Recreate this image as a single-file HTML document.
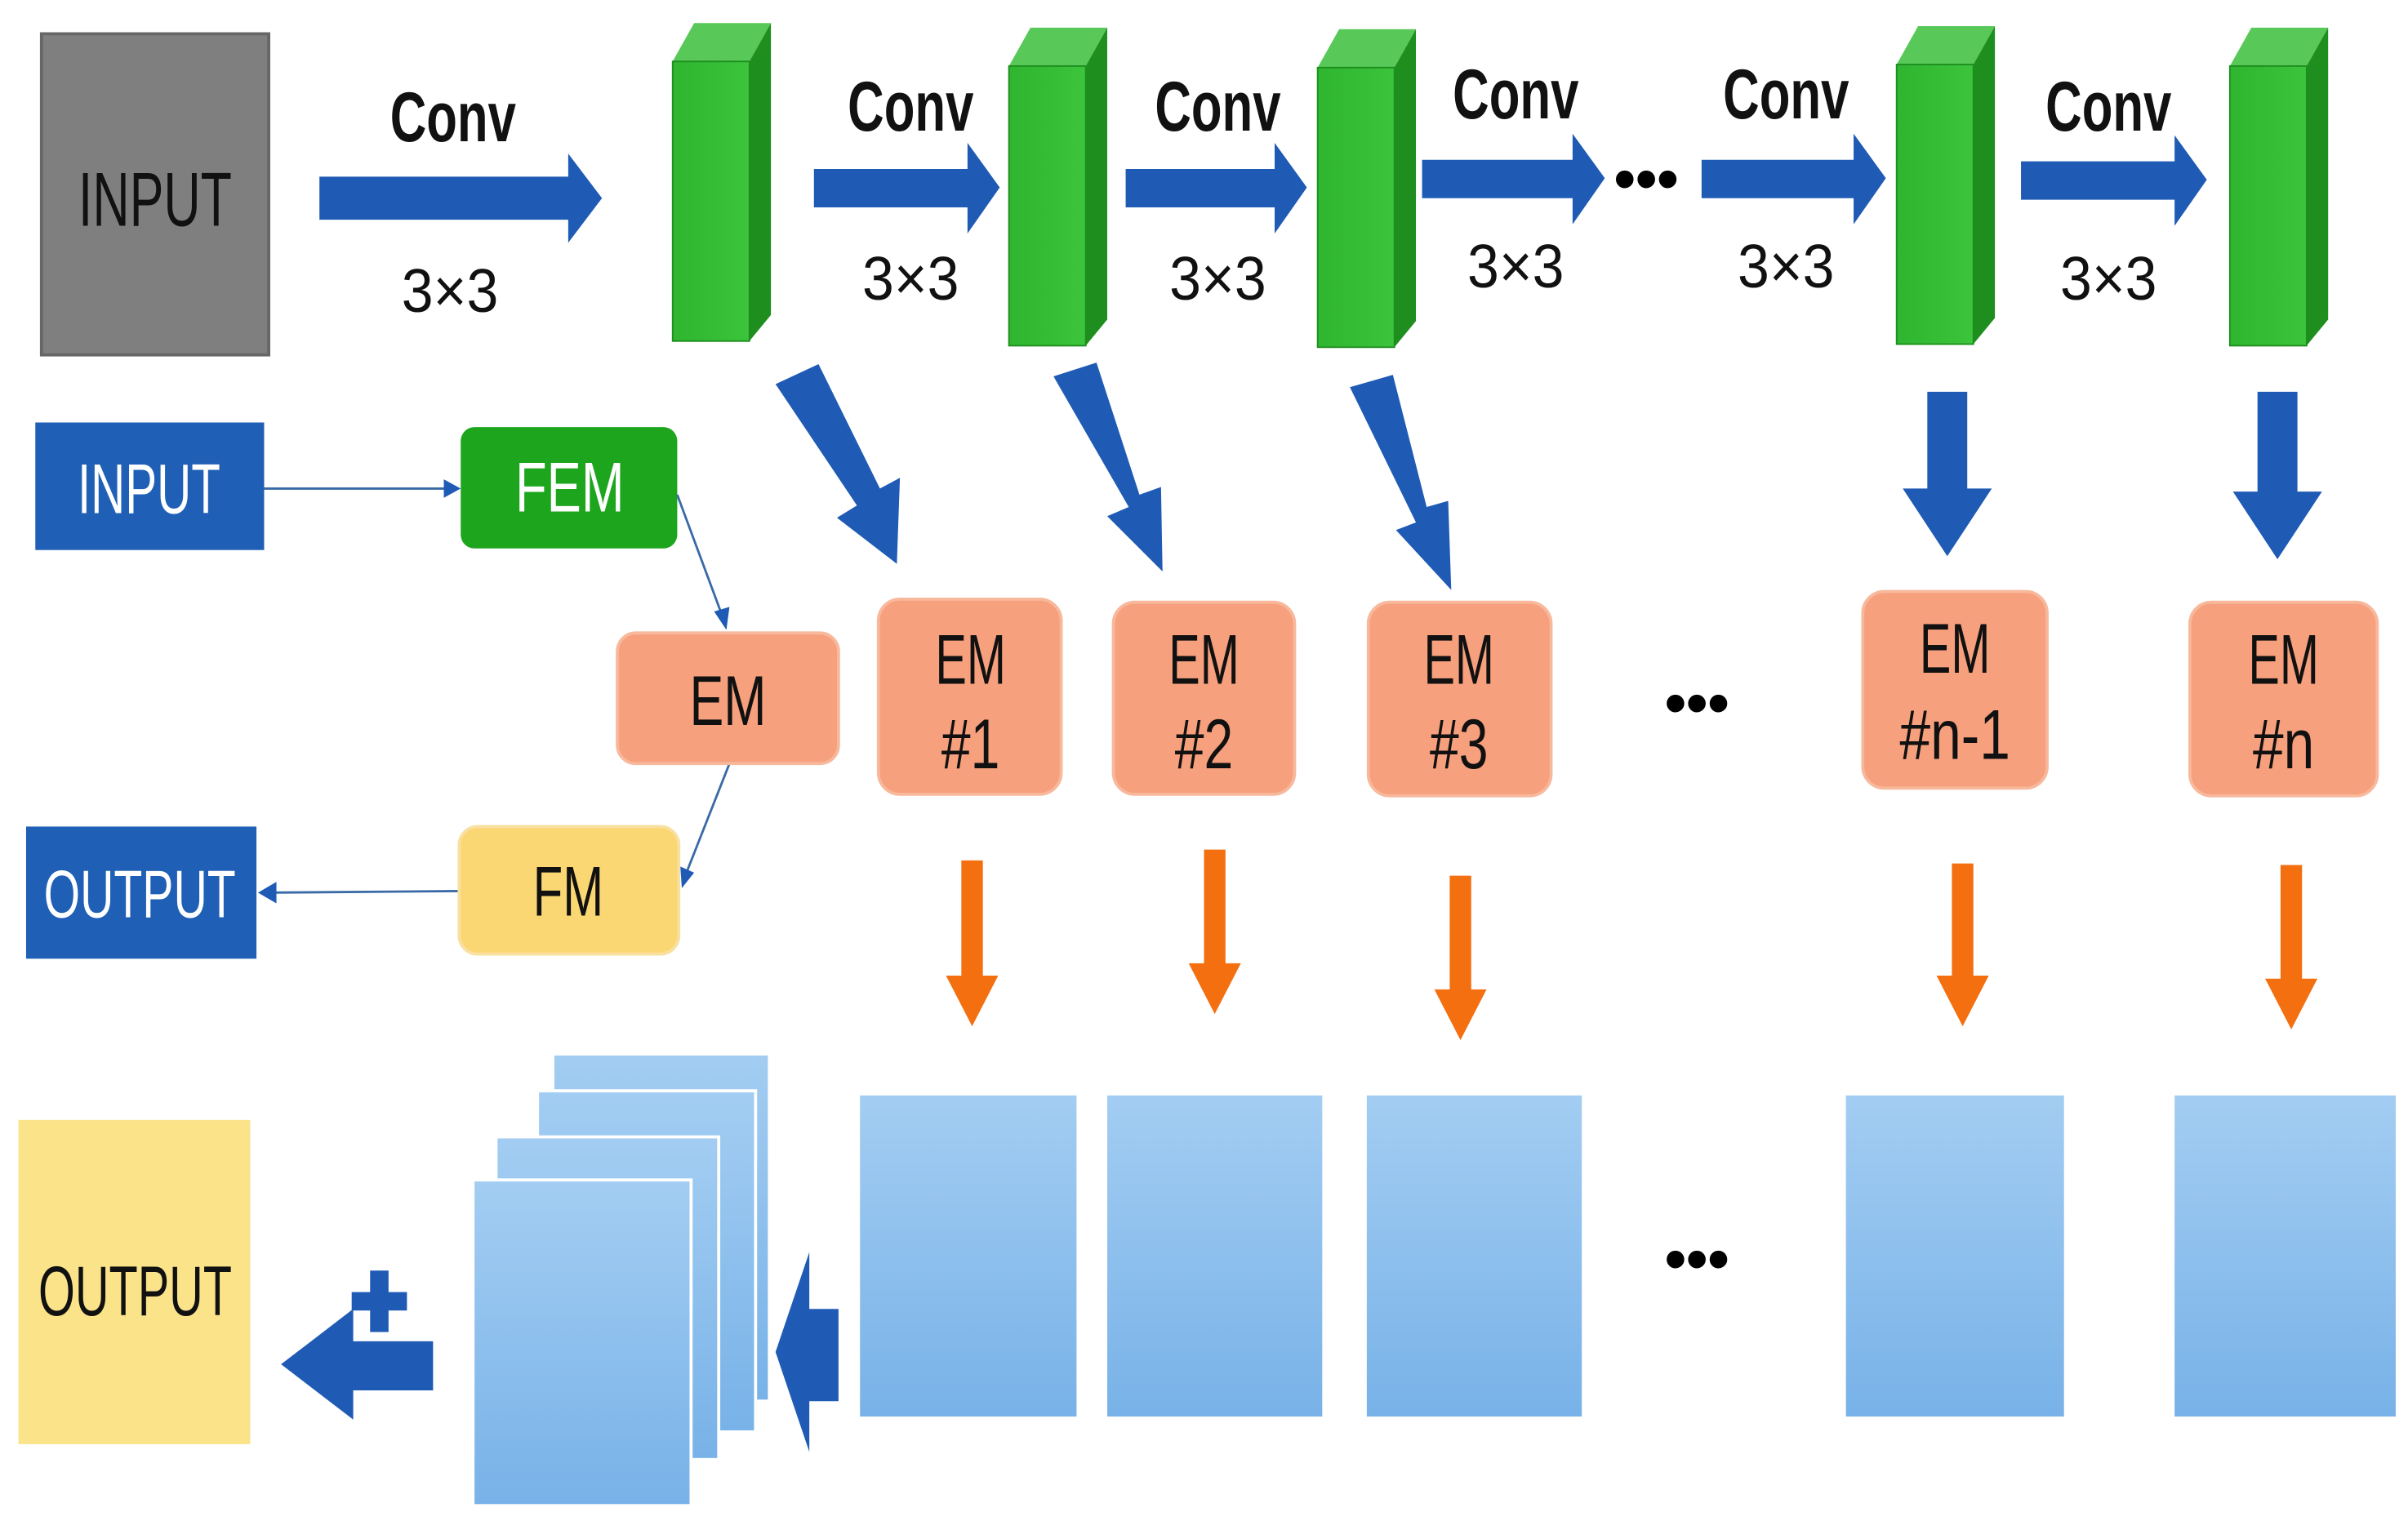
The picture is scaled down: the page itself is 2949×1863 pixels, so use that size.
<!DOCTYPE html>
<html><head><meta charset="utf-8"><style>
html,body{margin:0;padding:0;background:#fff;}
svg{display:block;}
text{font-family:"Liberation Sans Narrow","Liberation Sans",sans-serif;}
</style></head><body>
<svg width="2949" height="1863" viewBox="0 0 1568 990" preserveAspectRatio="none" xmlns="http://www.w3.org/2000/svg">
<defs>
<linearGradient id="lb" x1="0" y1="0" x2="0" y2="1"><stop offset="0" stop-color="#a3cdf2"/><stop offset="1" stop-color="#78b2e8"/></linearGradient>
<linearGradient id="gr" x1="0" y1="0" x2="1" y2="0"><stop offset="0" stop-color="#2fb52f"/><stop offset="1" stop-color="#3cc43c"/></linearGradient>
</defs>
<rect width="1568" height="990" fill="#fff"/>
<!-- gray input -->
<rect x="27" y="22" width="148" height="209" fill="#7f7f7f" stroke="#666" stroke-width="2"/>
<text x="101" y="147" font-size="50" text-anchor="middle" textLength="100" lengthAdjust="spacingAndGlyphs" fill="#111">INPUT</text>
<!-- horizontal arrows -->
<g fill="#1f5bb5">
<polygon points="208,115 370,115 370,100 392,129 370,158 370,143 208,143"/>
<polygon points="530,110 630,110 630,93 651,122 630,152 630,135 530,135"/>
<polygon points="733,110 830,110 830,93 851,122 830,152 830,135 733,135"/>
<polygon points="926,104 1024,104 1024,87 1045,116 1024,146 1024,129 926,129"/>
<polygon points="1108,104 1207,104 1207,87 1228,116 1207,146 1207,129 1108,129"/>
<polygon points="1316,105 1416,105 1416,88 1437,117 1416,147 1416,130 1316,130"/>
</g>
<text x="1072" y="130" font-size="40" font-weight="bold" text-anchor="middle">•••</text>
<!-- conv labels -->
<g font-weight="bold" font-size="46" text-anchor="middle" fill="#111">
<text x="295" y="92" textLength="82" lengthAdjust="spacingAndGlyphs">Conv</text>
<text x="593" y="85" textLength="82" lengthAdjust="spacingAndGlyphs">Conv</text>
<text x="793" y="85" textLength="82" lengthAdjust="spacingAndGlyphs">Conv</text>
<text x="987" y="77" textLength="82" lengthAdjust="spacingAndGlyphs">Conv</text>
<text x="1163" y="77" textLength="82" lengthAdjust="spacingAndGlyphs">Conv</text>
<text x="1373" y="85" textLength="82" lengthAdjust="spacingAndGlyphs">Conv</text>
</g>
<g font-size="40" text-anchor="middle" fill="#111">
<text x="293" y="203" textLength="63" lengthAdjust="spacingAndGlyphs">3×3</text>
<text x="593" y="195" textLength="63" lengthAdjust="spacingAndGlyphs">3×3</text>
<text x="793" y="195" textLength="63" lengthAdjust="spacingAndGlyphs">3×3</text>
<text x="987" y="187" textLength="63" lengthAdjust="spacingAndGlyphs">3×3</text>
<text x="1163" y="187" textLength="63" lengthAdjust="spacingAndGlyphs">3×3</text>
<text x="1373" y="195" textLength="63" lengthAdjust="spacingAndGlyphs">3×3</text>
</g>
<!-- green blocks -->
<g id="blk">
<polygon points="438,40 452,15 502,15 488,40" fill="#58c858"/>
<polygon points="488,40 502,15 502,205 488,222" fill="#1e8e1e"/>
<rect x="438" y="40" width="50" height="182" fill="url(#gr)" stroke="#1e8e1e" stroke-width="1"/>
</g>
<use href="#blk" transform="translate(219,3)"/>
<use href="#blk" transform="translate(420,4)"/>
<use href="#blk" transform="translate(797,2)"/>
<use href="#blk" transform="translate(1014,3)"/>
<!-- diagonal/down arrows -->
<g fill="#1f5bb5">
<polygon points="505,250 533,237 573,318 586,311 584,367 545,337 558,329"/>
<polygon points="686,245 714,236 742,322 756,317 757,372 721,336 735,330"/>
<polygon points="879,252 907,244 929,330 943,326 945,384 909,345 922,340"/>
<polygon points="1255,255 1281,255 1281,318 1297,318 1268,362 1239,318 1255,318"/>
<polygon points="1470,255 1496,255 1496,320 1512,320 1483,364 1454,320 1470,320"/>
</g>
<!-- left side boxes -->
<rect x="23" y="275" width="149" height="83" fill="#1f5fb5"/>
<text x="97" y="334" font-size="46" text-anchor="middle" fill="#fff" textLength="93" lengthAdjust="spacingAndGlyphs">INPUT</text>
<rect x="300" y="278" width="141" height="79" rx="9" fill="#1ea51e"/>
<text x="371" y="333" font-size="46" text-anchor="middle" fill="#fff" textLength="71" lengthAdjust="spacingAndGlyphs">FEM</text>
<g stroke="#3a6aa6" stroke-width="1.5" fill="#1f5bb5">
<line x1="172" y1="318" x2="292" y2="318"/>
<polygon points="300,318 289,312 289,324" stroke="none"/>
<line x1="441" y1="322" x2="470" y2="400"/>
<polygon points="473,410 465,398 475,395" stroke="none"/>
<line x1="475" y1="497" x2="447" y2="568"/>
<polygon points="444,578 443,564 452,568" stroke="none"/>
<line x1="299" y1="580" x2="177" y2="581"/>
<polygon points="168,581 180,574 180,588" stroke="none"/>
</g>
<!-- EMs -->
<g fill="#f6a07d" stroke="#f8b89c" stroke-width="2">
<rect x="402" y="412" width="144" height="85" rx="12"/>
<rect x="572" y="390" width="119" height="127" rx="14"/>
<rect x="725" y="392" width="118" height="125" rx="14"/>
<rect x="891" y="392" width="119" height="126" rx="14"/>
<rect x="1213" y="385" width="120" height="128" rx="14"/>
<rect x="1426" y="392" width="122" height="126" rx="14"/>
</g>
<g font-size="46" text-anchor="middle" fill="#111">
<text x="474" y="472" textLength="50" lengthAdjust="spacingAndGlyphs">EM</text>
<text x="632" y="445" textLength="46" lengthAdjust="spacingAndGlyphs">EM</text>
<text x="632" y="500" textLength="38" lengthAdjust="spacingAndGlyphs">#1</text>
<text x="784" y="445" textLength="46" lengthAdjust="spacingAndGlyphs">EM</text>
<text x="784" y="500" textLength="38" lengthAdjust="spacingAndGlyphs">#2</text>
<text x="950" y="445" textLength="46" lengthAdjust="spacingAndGlyphs">EM</text>
<text x="950" y="500" textLength="38" lengthAdjust="spacingAndGlyphs">#3</text>
<text x="1273" y="438" textLength="46" lengthAdjust="spacingAndGlyphs">EM</text>
<text x="1273" y="494" textLength="72" lengthAdjust="spacingAndGlyphs">#n-1</text>
<text x="1487" y="445" textLength="46" lengthAdjust="spacingAndGlyphs">EM</text>
<text x="1487" y="500" textLength="40" lengthAdjust="spacingAndGlyphs">#n</text>
</g>
<text x="1105" y="471" font-size="40" font-weight="bold" text-anchor="middle">•••</text>
<!-- FM & output -->
<rect x="299" y="538" width="143" height="83" rx="12" fill="#fbd774" stroke="#f8e0a0" stroke-width="2"/>
<text x="370" y="596" font-size="46" text-anchor="middle" fill="#111" textLength="46" lengthAdjust="spacingAndGlyphs">FM</text>
<rect x="17" y="538" width="150" height="86" fill="#1f5fb5"/>
<text x="91" y="597" font-size="44" text-anchor="middle" fill="#fff" textLength="125" lengthAdjust="spacingAndGlyphs">OUTPUT</text>
<!-- orange arrows -->
<g fill="#f36f10">
<polygon points="626,560 640,560 640,635 650,635 633,668 616,635 626,635"/>
<polygon points="784,553 798,553 798,627 808,627 791,660 774,627 784,627"/>
<polygon points="944,570 958,570 958,644 968,644 951,677 934,644 944,644"/>
<polygon points="1271,562 1285,562 1285,635 1295,635 1278,668 1261,635 1271,635"/>
<polygon points="1485,563 1499,563 1499,637 1509,637 1492,670 1475,637 1485,637"/>
</g>
<!-- blue rects -->
<g fill="url(#lb)">
<rect x="560" y="713" width="141" height="209"/>
<rect x="721" y="713" width="140" height="209"/>
<rect x="890" y="713" width="140" height="209"/>
<rect x="1202" y="713" width="142" height="209"/>
<rect x="1416" y="713" width="144" height="209"/>
</g>
<text x="1105" y="833" font-size="40" font-weight="bold" text-anchor="middle">•••</text>
<!-- stack -->
<g fill="url(#lb)" stroke="#fff" stroke-width="2">
<rect x="360" y="686" width="141" height="226"/>
<rect x="350" y="710" width="142" height="222"/>
<rect x="323" y="740" width="145" height="210"/>
<rect x="308" y="768" width="142" height="212"/>
</g>
<g fill="#1f5bb5">
<polygon points="505,880 527,815 527,852 546,852 546,912 527,912 527,945"/>
<polygon points="183,888 230,852 230,873 282,873 282,905 230,905 230,924"/>
<rect x="241" y="827" width="12" height="40"/>
<rect x="229" y="841" width="36" height="12"/>
</g>
<rect x="12" y="729" width="151" height="211" fill="#fbe38a"/>
<text x="88" y="856" font-size="46" text-anchor="middle" fill="#111" textLength="126" lengthAdjust="spacingAndGlyphs">OUTPUT</text>
</svg>
</body></html>
